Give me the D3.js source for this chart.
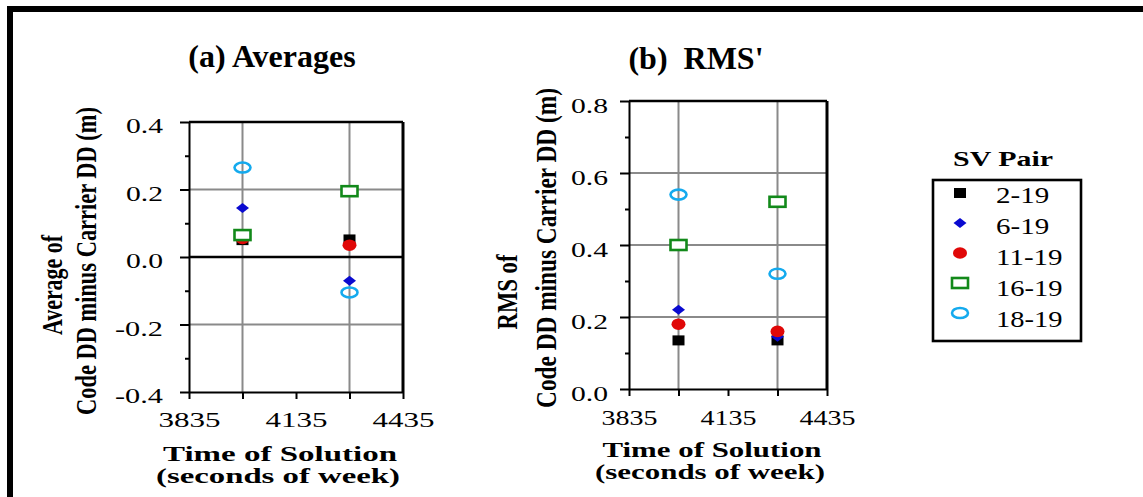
<!DOCTYPE html>
<meta charset="utf-8">
<style>
body { margin: 0; background: #fff; }
svg { display: block; font-family: "Liberation Serif", "Times New Roman", serif; }
.grid { stroke: #8a8a8a; stroke-width: 2; }
.axis path, .axis line { stroke: #000; stroke-width: 2; }
</style>
<body>
<script src="https://d3js.org/d3.v7.min.js"></script>
<script>

// data
var pairs = ["2-19", "6-19", "11-19", "16-19", "18-19"];
var times = [3985, 4285];
var averages = [
  [0.050, 0.052],
  [0.145, -0.070],
  [0.055, 0.035],
  [0.065, 0.195],
  [0.265, -0.105]
];
var rms = [
  [0.135, 0.135],
  [0.220, 0.145],
  [0.180, 0.160],
  [0.400, 0.520],
  [0.540, 0.320]
];
var xMajor = [3835, 4135, 4435];
var xMinor = [3985, 4285];
var avgMajor = [-0.4, -0.2, 0.0, 0.2, 0.4];
var avgMinor = [-0.3, -0.1, 0.1, 0.3];
var rmsMajor = [0.0, 0.2, 0.4, 0.6, 0.8];
var rmsMinor = [0.1, 0.3, 0.5, 0.7];

var serif = '"Liberation Serif", "Times New Roman", serif';

var markers = [
  {shape: "square",  color: "#000000"},
  {shape: "diamond", color: "#0a0ad0"},
  {shape: "circle",  color: "#e00808"},
  {shape: "osquare", color: "#12891a"},
  {shape: "oellipse", color: "#14aaee"}
];

var svg = d3.select("body").append("svg")
    .attr("width", 1143)
    .attr("height", 497);

// outer frame (only top and left edges show)
svg.append("rect")
    .attr("x", 10).attr("y", 9)
    .attr("width", 1300).attr("height", 700)
    .attr("fill", "none").attr("stroke", "#000").attr("stroke-width", 6);

function fmt(d) { return d3.format(".1f")(d).replace("\u2212", "-"); }

function marker(g, m, cx, cy, k) {
  k = k || 1;
  if (m.shape == "square") {
    g.append("rect").attr("x", cx - 6 * k).attr("y", cy - 5 * k)
      .attr("width", 12 * k).attr("height", 10 * k).attr("fill", m.color);
  } else if (m.shape == "diamond") {
    var w = 6.5 * k, h = 5 * k;
    g.append("path")
      .attr("d", "M" + (cx - w) + "," + cy + "L" + cx + "," + (cy - h) + "L" + (cx + w) + "," + cy + "L" + cx + "," + (cy + h) + "Z")
      .attr("fill", m.color);
  } else if (m.shape == "circle") {
    g.append("ellipse").attr("cx", cx).attr("cy", cy)
      .attr("rx", 7 * k).attr("ry", 5.8 * k).attr("fill", m.color);
  } else if (m.shape == "osquare") {
    g.append("rect").attr("x", cx - 8 * k).attr("y", cy - 5 * k)
      .attr("width", 16 * k).attr("height", 10 * k)
      .attr("fill", "#fff").attr("stroke", m.color).attr("stroke-width", 2.6);
  } else {
    g.append("ellipse").attr("cx", cx).attr("cy", cy)
      .attr("rx", 8 * k).attr("ry", 5 * k)
      .attr("fill", "none").attr("stroke", m.color).attr("stroke-width", 2.6);
  }
}

function panel(p) {
  var x = d3.scaleLinear().domain([3835, 4435]).range([p.x0, p.x1]);
  var y = d3.scaleLinear().domain(p.domain).range([p.y1, p.y0]);
  var g = svg.append("g");

  // grid
  g.selectAll(".vgrid").data(xMinor).enter().append("line")
      .attr("class", "grid")
      .attr("x1", x).attr("x2", x).attr("y1", p.y0).attr("y2", p.y1);
  g.selectAll(".hgrid").data(p.grid).enter().append("line")
      .attr("class", "grid")
      .attr("x1", p.x0).attr("x2", p.x1).attr("y1", y).attr("y2", y);
  if (p.zero) {
    g.append("line").attr("x1", p.x0).attr("x2", p.x1)
      .attr("y1", y(0)).attr("y2", y(0))
      .attr("stroke", "#000").attr("stroke-width", 2.4);
  }

  // axes
  var yAxis = g.append("g").attr("class", "axis")
      .attr("transform", "translate(" + p.x0 + ",0)")
      .call(d3.axisLeft(y).tickValues(p.major).tickSize(9).tickSizeOuter(0).tickFormat(fmt))
      .attr("font-family", serif);
  yAxis.select(".domain").attr("stroke-width", 3);
  yAxis.selectAll("text")
      .attr("x", -p.ylabGap).attr("dy", "0.5em")
      .attr("fill", "#000")
      .style("font-family", serif)
      .style("font-size", p.tickFont + "px")
      .attr("textLength", function(d) { return d < 0 ? 48 : 37; })
      .attr("lengthAdjust", "spacingAndGlyphs");
  g.append("g").attr("class", "axis")
      .attr("transform", "translate(" + p.x0 + ",0)")
      .call(d3.axisLeft(y).tickValues(p.minor).tickSize(4).tickFormat(""))
      .select(".domain").remove();

  var xAxis = g.append("g").attr("class", "axis")
      .attr("transform", "translate(0," + p.y1 + ")")
      .call(d3.axisBottom(x).tickValues(xMajor).tickSize(7).tickSizeOuter(0).tickFormat(d3.format("d")))
      .attr("font-family", serif);
  xAxis.select(".domain").attr("stroke-width", 2.6);
  xAxis.selectAll("text")
      .attr("y", p.xlabBase - p.y1).attr("dy", 0)
      .attr("fill", "#000")
      .style("font-family", serif)
      .style("font-size", p.tickFont + "px")
      .attr("textLength", p.xlabW)
      .attr("lengthAdjust", "spacingAndGlyphs");
  g.append("g").attr("class", "axis")
      .attr("transform", "translate(0," + p.y1 + ")")
      .call(d3.axisBottom(x).tickValues(xMinor).tickSize(7).tickFormat(""))
      .select(".domain").remove();

  // top and right frame
  g.append("line").attr("x1", p.x0).attr("x2", p.x1).attr("y1", p.y0).attr("y2", p.y0)
      .attr("stroke", "#000").attr("stroke-width", 2.6);
  g.append("line").attr("x1", p.x1).attr("x2", p.x1).attr("y1", p.y0).attr("y2", p.y1)
      .attr("stroke", "#000").attr("stroke-width", 3);

  // points
  p.values.forEach(function(series, i) {
    series.forEach(function(v, j) {
      marker(g, markers[i], x(times[j]), y(v));
    });
  });

  // title
  svg.append("text")
      .attr("x", p.titleX).attr("y", p.titleY)
      .attr("text-anchor", "middle")
      .style("font-size", "32px").style("font-weight", "bold")
      .style("white-space", "pre")
      .text(p.title);

  // x label
  p.xtitle.forEach(function(t) {
    svg.append("text")
        .attr("x", t.x).attr("y", t.y)
        .attr("text-anchor", "middle")
        .style("font-size", "21px").style("font-weight", "bold")
        .attr("textLength", t.w).attr("lengthAdjust", "spacingAndGlyphs")
        .text(t.text);
  });

  // y label (rotated, glyphs stretched like the original scan)
  p.ytitle.forEach(function(t) {
    var txt = svg.append("text")
        .attr("text-anchor", "middle")
        .style("font-size", "22px").style("font-weight", "bold")
        .text(t.text);
    var len = txt.node().getComputedTextLength();
    txt.attr("transform", "translate(" + t.x + "," + t.y + ") rotate(-90) scale(" + (t.w / len) + ",1.38)");
  });
}

panel({
  x0: 189, x1: 403, y0: 122, y1: 392,
  domain: [-0.4, 0.4], major: avgMajor, minor: avgMinor, grid: [-0.2, 0.2], zero: true,
  values: averages, tickFont: 21, ylabGap: 26, xlabBase: 427, xlabW: 62,
  title: "(a) Averages", titleX: 272, titleY: 67,
  xtitle: [
    {text: "Time of Solution", x: 280, y: 461, w: 234},
    {text: "(seconds of week)", x: 278, y: 483, w: 244}
  ],
  ytitle: [
    {text: "Average of", x: 62, y: 285, w: 100},
    {text: "Code DD minus Carrier DD (m)", x: 96, y: 261, w: 308}
  ]
});

panel({
  x0: 629, x1: 827, y0: 101, y1: 389,
  domain: [0, 0.8], major: rmsMajor, minor: rmsMinor, grid: [0.2, 0.4, 0.6], zero: false,
  values: rms, tickFont: 22, ylabGap: 21, xlabBase: 425, xlabW: 56,
  title: "(b)  RMS'", titleX: 696, titleY: 69,
  xtitle: [
    {text: "Time of Solution", x: 712, y: 457, w: 219},
    {text: "(seconds of week)", x: 710, y: 479, w: 230}
  ],
  ytitle: [
    {text: "RMS of", x: 517, y: 292, w: 75},
    {text: "Code DD minus Carrier DD (m)", x: 556, y: 248, w: 320}
  ]
});

// legend
var legend = svg.append("g");
legend.append("text")
    .attr("x", 1003).attr("y", 166)
    .attr("text-anchor", "middle")
    .style("font-size", "22px").style("font-weight", "bold")
    .attr("textLength", 100).attr("lengthAdjust", "spacingAndGlyphs")
    .text("SV Pair");
legend.append("rect")
    .attr("x", 933).attr("y", 180).attr("width", 148).attr("height", 161)
    .attr("fill", "none").attr("stroke", "#000").attr("stroke-width", 2.6);
pairs.forEach(function(name, i) {
  var cy = 193 + i * 30;
  marker(legend, markers[i], 960, cy, 1);
  legend.append("text")
      .attr("x", 996).attr("y", 203 + i * 31)
      .style("font-size", "23px")
      .attr("textLength", name.length * 13.3)
      .attr("lengthAdjust", "spacingAndGlyphs")
      .text(name);
});
</script>
</body>
